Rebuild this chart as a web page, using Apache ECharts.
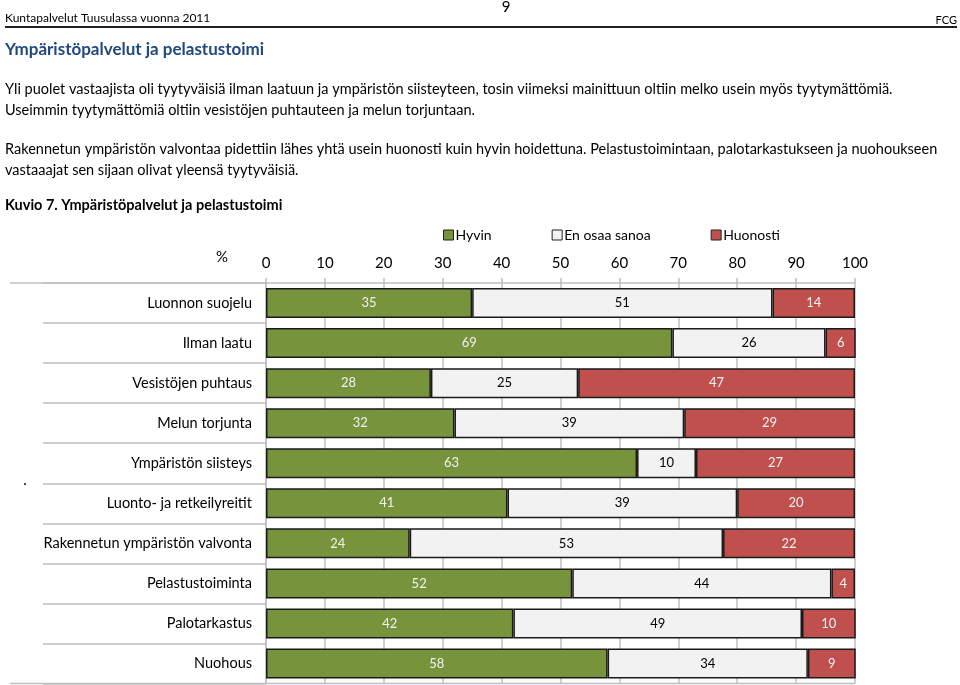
<!DOCTYPE html>
<html>
<head>
<meta charset="utf-8">
<script src="https://cdn.jsdelivr.net/npm/echarts@6/dist/echarts.min.js"></script>
<style>html,body{margin:0;padding:0;background:#fff;}#c{width:960px;height:685px;}</style>
</head>
<body>
<div id="c"></div>
<script>
const categories = ["Luonnon suojelu","Ilman laatu","Vesistöjen puhtaus","Melun torjunta","Ympäristön siisteys","Luonto- ja retkeilyreitit","Rakennetun ympäristön valvonta","Pelastustoiminta","Palotarkastus","Nuohous"];
const seriesNames = ["Hyvin","En osaa sanoa","Huonosti"];
const hyvin = [35,69,28,32,63,41,24.4,52,42,58];
const enOsaa = [51,26,25,39,10,39,53.2,44,49,34];
const huonosti = [14,6,47,29,27,20,22.4,4,10,9];
const xTicks = [0,10,20,30,40,50,60,70,80,90,100];
const headerLeft = "Kuntapalvelut Tuusulassa vuonna 2011";
const pageNo = "9";
const headerRight = "FCG";
const pageTitle = "Ympäristöpalvelut ja pelastustoimi";
const paragraphs = [
 "Yli puolet vastaajista oli tyytyväisiä ilman laatuun ja ympäristön siisteyteen, tosin viimeksi mainittuun oltiin melko usein myös tyytymättömiä.",
 "Useimmin tyytymättömiä oltiin vesistöjen puhtauteen ja melun torjuntaan.",
 "Rakennetun ympäristön valvontaa pidettiin lähes yhtä usein huonosti kuin hyvin hoidettuna. Pelastustoimintaan, palotarkastukseen ja nuohoukseen",
 "vastaaajat sen sijaan olivat yleensä tyytyväisiä."
];
const chartCaption = "Kuvio 7. Ympäristöpalvelut ja pelastustoimi";

const colors = ["#77933C","#F2F2F2","#C0504D"];
const labelColors = ["#F2F2F2","#000000","#F2F2F2"];
const FONT = "Lato, 'Liberation Sans', sans-serif";
const gridCol = "#BFBFBF";

const chart = echarts.init(document.getElementById('c'));
const data = [hyvin, enOsaa, huonosti];
const paraY = [89,110,149,170];
const graphics = [
  {type:'text', x:5, y:18, style:{text:headerLeft, font:"12px "+FONT, fill:'#000', verticalAlign:'middle'}},
  {type:'text', x:506, y:7, style:{text:pageNo, font:"15px "+FONT, fill:'#000', align:'center', verticalAlign:'middle'}},
  {type:'text', x:957, y:20, style:{text:headerRight, font:"11px "+FONT, fill:'#000', align:'right', verticalAlign:'middle'}},
  {type:'line', shape:{x1:5,y1:27,x2:957,y2:27}, style:{stroke:'#222', lineWidth:2}},
  {type:'text', x:5, y:50, style:{text:pageTitle, font:"bold 17px "+FONT, fill:'#1F497D', verticalAlign:'middle'}},
  {type:'text', x:5, y:205, style:{text:chartCaption, font:"bold 14.5px "+FONT, fill:'#000', verticalAlign:'middle'}},
  {type:'text', x:222, y:257, style:{text:'%', font:"15px "+FONT, fill:'#000', align:'center', verticalAlign:'middle'}},
  {type:'text', x:25, y:480, style:{text:'.', font:"15px "+FONT, fill:'#000', align:'center', verticalAlign:'middle'}},
  {type:'line', shape:{x1:10,y1:283,x2:266,y2:283}, style:{stroke:gridCol, lineWidth:1.5}},
  {type:'line', shape:{x1:10,y1:683.5,x2:855,y2:683.5}, style:{stroke:gridCol, lineWidth:1.5}}
];
paragraphs.forEach((p,i)=>graphics.push({type:'text', x:5, y:paraY[i], style:{text:p, font:"14.5px "+FONT, fill:'#000', verticalAlign:'middle'}}));

chart.setOption({
  animation:false,
  color: colors,
  textStyle:{fontFamily:FONT},
  legend:{
    data:seriesNames, left:438, top:223, icon:'rect', itemWidth:10, itemHeight:10, itemGap:60,
    itemStyle:{borderColor:'#222', borderWidth:1},
    textStyle:{fontSize:14, color:'#000', fontFamily:FONT, padding:[0,0,0,-3]}
  },
  grid:{left:266, right:105, top:283, bottom:1.5, containLabel:false},
  xAxis:{
    type:'value', position:'top', min:0, max:100, interval:10,
    axisLine:{show:true, lineStyle:{color:gridCol, width:1.5}},
    axisTick:{show:true, length:5, lineStyle:{color:gridCol, width:1.5}},
    splitLine:{show:true, lineStyle:{color:gridCol, width:1.5}},
    axisLabel:{fontSize:15, color:'#000', margin:12, fontFamily:FONT,
      customValues: xTicks}
  },
  yAxis:{
    type:'category', inverse:true, data:categories,
    axisLine:{show:true, lineStyle:{color:gridCol, width:1.5}},
    axisTick:{show:true, length:223, interval:0, lineStyle:{color:gridCol, width:1.5}},
    axisLabel:{fontSize:14.5, color:'#000', margin:14, fontFamily:FONT}
  },
  series: seriesNames.map((n,i)=>({
    name:n, type:'bar', stack:'t', barWidth:30, clip:true,
    data:data[i],
    itemStyle:{color:colors[i], borderColor:'#1a1a1a', borderWidth:1.5},
    label:{show:true, position:'inside', color:labelColors[i], fontSize:13, fontFamily:FONT,
      formatter:p=>Math.round(p.value)}
  })),
  graphic: graphics
});
</script>
</body>
</html>
